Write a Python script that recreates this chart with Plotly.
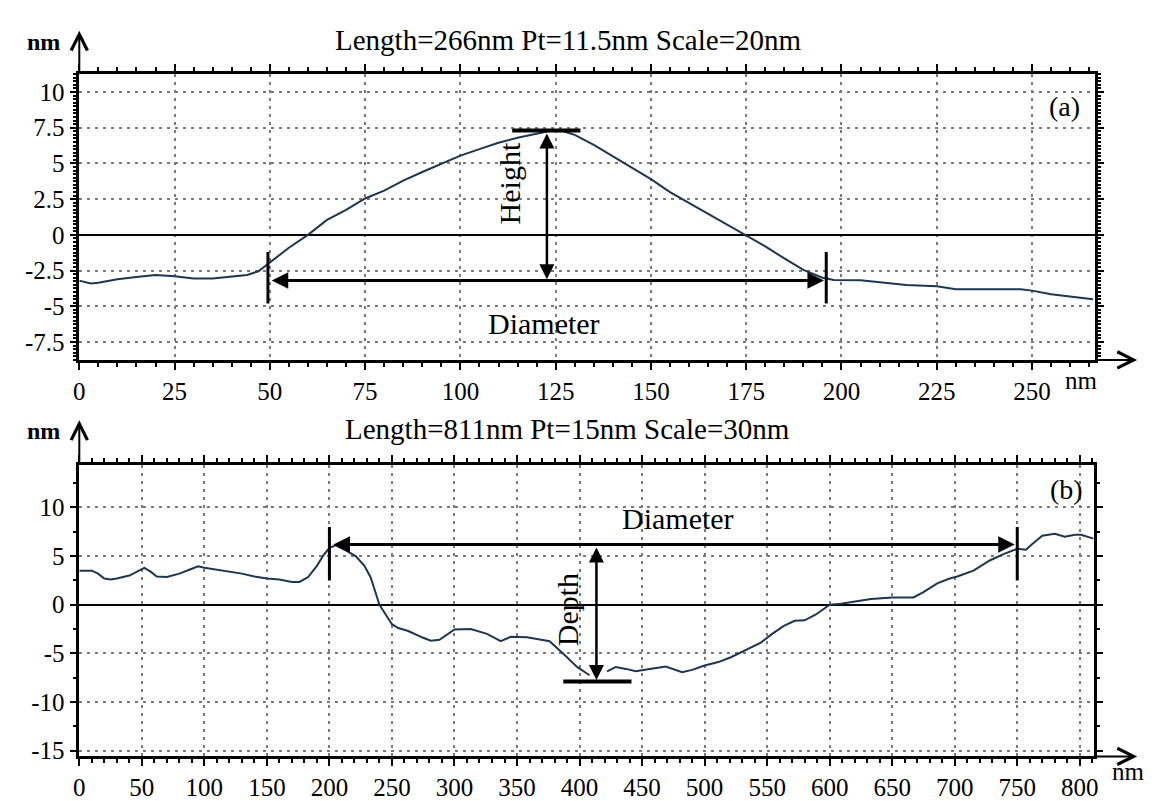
import plotly.graph_objects as go

# ---------------- data ----------------
# Panel (a) profile
xa = [0, 3, 5, 10, 15, 20, 25, 30, 35, 40, 44, 47, 50, 55, 60, 65, 70, 75, 80, 85,
      90, 95, 100, 105, 110, 115, 120, 124, 127, 130, 135, 140, 145, 150, 155, 160,
      165, 170, 175, 180, 185, 190, 195, 198, 205, 210, 217, 225, 230, 247, 250,
      255, 260, 266]
ya = [-3.2, -3.4, -3.35, -3.1, -2.95, -2.8, -2.9, -3.05, -3.05, -2.9, -2.8, -2.55,
      -1.95, -0.9, 0.0, 1.05, 1.75, 2.55, 3.1, 3.8, 4.4, 5.0, 5.55, 6.0, 6.45, 6.8,
      7.1, 7.3, 7.25, 7.0, 6.3, 5.5, 4.7, 3.9, 3.0, 2.25, 1.5, 0.75, 0.0, -0.8,
      -1.65, -2.45, -3.0, -3.15, -3.17, -3.3, -3.5, -3.6, -3.8, -3.8, -3.9, -4.15,
      -4.3, -4.5]

# Panel (b) profile
xb = [0, 10, 15, 20, 25, 30, 40, 47, 52, 57, 62, 70, 80, 90, 95, 100, 110, 120, 130,
      140, 150, 160, 170, 176, 183, 190, 195, 200, 205, 213, 221, 228, 233, 237, 240,
      245, 250, 255, 263, 275, 281, 288, 294, 300, 313, 326, 337, 345, 358, 366, 376,
      387, 398, 408, 413, 422, 429, 437, 445, 456, 469, 482, 490, 500, 511, 521, 535,
      545, 554, 563, 572, 580, 589, 600, 609, 624, 633, 650, 667, 675, 686, 696, 702,
      715, 728, 739, 750, 757, 762, 770, 780, 788, 796, 801, 811]
yb = [3.5, 3.5, 3.2, 2.7, 2.6, 2.7, 3.0, 3.5, 3.8, 3.4, 2.9, 2.85, 3.2, 3.7, 3.95, 3.8,
      3.6, 3.4, 3.2, 2.9, 2.7, 2.6, 2.35, 2.35, 2.85, 4.0, 5.05, 5.85, 6.1, 5.6, 5.0,
      4.0, 2.8, 1.2, 0.0, -1.0, -2.0, -2.4, -2.7, -3.4, -3.7, -3.6, -3.1, -2.55, -2.5,
      -3.0, -3.75, -3.3, -3.35, -3.5, -3.75, -5.05, -6.4, -7.25, None, -6.85, -6.4,
      -6.6, -6.85, -6.6, -6.35, -6.95, -6.7, -6.25, -5.9, -5.4, -4.5, -3.9, -3.0, -2.2,
      -1.65, -1.6, -1.0, 0.0, 0.1, 0.4, 0.6, 0.75, 0.75, 1.3, 2.2, 2.7, 2.9, 3.5, 4.55,
      5.2, 5.75, 5.65, 6.25, 7.1, 7.3, 7.0, 7.2, 7.2, 6.8]

# tick labels
xa_ticks = [0, 25, 50, 75, 100, 125, 150, 175, 200, 225, 250]
xa_labels = ["0", "25", "50", "75", "100", "125", "150", "175", "200", "225", "250"]
ya_ticks = [10, 7.5, 5, 2.5, 0, -2.5, -5, -7.5]
ya_labels = ["10", "7.5", "5", "2.5", "0", "-2.5", "-5", "-7.5"]
xb_ticks = list(range(0, 801, 50))
xb_labels = [str(v) for v in xb_ticks]
yb_ticks = [10, 5, 0, -5, -10, -15]
yb_labels = ["10", "5", "0", "-5", "-10", "-15"]

# measurement markers (data units)
a_diam = [49.5, 196.0]      # diameter endpoints, panel a
a_diam_y = -3.2
a_peak_x = 122.7
a_peak_y = 7.3
a_bar = [113.6, 131.5]
b_diam = [200.0, 750.0]
b_diam_y = 6.2
b_depth_x = 413.5
b_depth_y = -7.9
b_bar = [387.0, 441.5]

titles = ["Length=266nm Pt=11.5nm Scale=20nm", "Length=811nm Pt=15nm Scale=30nm"]

# ---------------- styling ----------------
FONT = "Liberation Serif"
LINE = "#1d3652"
W, H = 1156, 801


def px_x(p):
    return p / W


def px_y(p):
    return 1 - p / H


dom_x_a = [px_x(74), px_x(1099)]
dom_y_a = [px_y(364), px_y(75)]
dom_x_b = [px_x(74), px_x(1098)]
dom_y_b = [px_y(765), px_y(470)]

fig = go.Figure()
fig.add_trace(go.Scatter(x=xa, y=ya, mode="lines", line=dict(color=LINE, width=2),
                         xaxis="x", yaxis="y", showlegend=False, hoverinfo="skip"))
fig.add_trace(go.Scatter(x=xb, y=yb, mode="lines", line=dict(color=LINE, width=2),
                         xaxis="x2", yaxis="y2", showlegend=False, hoverinfo="skip",
                         connectgaps=False))


def axis_style(domain, rng, anchor, tickvals, ticktext, minor_dtick, zeroline):
    return dict(
        domain=domain, range=rng, anchor=anchor,
        tickmode="array", tickvals=tickvals, ticktext=ticktext,
        showgrid=True, gridcolor="#7a7a7a", griddash="3px,5px", gridwidth=1.6,
        showline=True, linecolor="black", linewidth=2.5, mirror="allticks",
        ticks="outside", ticklen=7, tickwidth=2, tickcolor="black",
        minor=dict(tickmode="linear", tick0=0, dtick=minor_dtick, ticks="outside",
                   ticklen=4, tickwidth=1.5, tickcolor="black", showgrid=False),
        tickfont=dict(family=FONT, size=25, color="black"),
        zeroline=zeroline, zerolinecolor="black", zerolinewidth=1.8,
        fixedrange=True,
    )


fig.update_layout(
    width=W, height=H,
    margin=dict(l=0, r=0, t=0, b=0),
    paper_bgcolor="white", plot_bgcolor="white",
    showlegend=False,
    font=dict(family=FONT, color="black"),
    xaxis=axis_style(dom_x_a, [0, 266.4], "y", xa_ticks, xa_labels, 5, False),
    yaxis=axis_style(dom_y_a, [-8.75, 11.25], "x", ya_ticks, ya_labels, 0.25, True),
    xaxis2=axis_style(dom_x_b, [0, 811], "y2", xb_ticks, xb_labels, 10, False),
    yaxis2=axis_style(dom_y_b, [-15.6, 14.4], "x2", yb_ticks, yb_labels, 2.5, True),
)

shapes = []
ann = []


def text_ann(xref, yref, x, y, text, size, angle=0):
    return dict(xref=xref, yref=yref, x=x, y=y, text=text, textangle=angle,
                xanchor="center", yanchor="middle", showarrow=False,
                font=dict(family=FONT, size=size, color="black"))


def dbl_arrow(xref, yref, x0, y0, x1, y1, width, size):
    return dict(xref=xref, yref=yref, axref=xref, ayref=yref,
                x=x1, y=y1, ax=x0, ay=y0, showarrow=True, arrowside="end+start",
                arrowhead=2, startarrowhead=2, arrowwidth=width, arrowsize=size,
                startarrowsize=size, arrowcolor="black", text="")


# ----- panel a markers -----
for xv in a_diam:
    shapes.append(dict(type="line", xref="x", yref="y", x0=xv, x1=xv, y0=-1.2, y1=-4.8,
                       line=dict(color="black", width=3)))
shapes.append(dict(type="line", xref="x", yref="y", x0=a_bar[0], x1=a_bar[1],
                   y0=a_peak_y, y1=a_peak_y, line=dict(color="black", width=4)))
ann.append(dbl_arrow("x", "y", a_diam[0] + 0.6, a_diam_y, a_diam[1] - 0.6, a_diam_y, 3, 1.1))
ann.append(dbl_arrow("x", "y", a_peak_x, a_peak_y - 0.1, a_peak_x, a_diam_y + 0.1, 2.5, 1.2))
ann.append(text_ann("x", "y", 113.0, 3.6, "Height", 30, -90))
ann.append(text_ann("x", "y", 122.0, -6.2, "Diameter", 30))
ann.append(text_ann("x", "y", 258.5, 9.0, "(a)", 28))

# ----- panel b markers -----
for xv in b_diam:
    shapes.append(dict(type="line", xref="x2", yref="y2", x0=xv, x1=xv, y0=8.0, y1=2.5,
                       line=dict(color="black", width=3)))
shapes.append(dict(type="line", xref="x2", yref="y2", x0=b_bar[0], x1=b_bar[1],
                   y0=b_depth_y, y1=b_depth_y, line=dict(color="black", width=4)))
ann.append(dbl_arrow("x2", "y2", b_diam[0] + 2, b_diam_y, b_diam[1] - 2, b_diam_y, 3, 1.1))
ann.append(dbl_arrow("x2", "y2", b_depth_x, b_diam_y - 0.15, b_depth_x, b_depth_y + 0.15, 2.5, 1.2))
ann.append(text_ann("x2", "y2", 390.5, -0.5, "Depth", 30, -90))
ann.append(text_ann("x2", "y2", 479, 8.9, "Diameter", 30))
ann.append(text_ann("x2", "y2", 789, 11.8, "(b)", 28))

# ----- titles, unit labels, axis arrows -----
for title, ty in zip(titles, [40, 434]):
    ann.append(text_ann("paper", "paper", px_x(567), px_y(ty), title, 29))
for ty in [42, 436]:
    ann.append(text_ann("paper", "paper", px_x(38), px_y(ty), "<b>nm</b>", 24))
for (nx, ny) in [(1086, 385), (1133, 780)]:
    ann.append(text_ann("paper", "paper", px_x(nx), px_y(ny), "nm", 25))

# y-axis arrows (up) and x-axis arrows (right)
for (top, tip) in [(75, 31), (470, 425)]:
    ann.append(dict(xref="paper", yref="paper", axref="pixel", ayref="pixel",
                    x=px_x(74), y=px_y(tip), ax=0, ay=top - tip,
                    showarrow=True, arrowhead=5, arrowsize=1.6, arrowwidth=2,
                    arrowcolor="black", text=""))
for (right, yy) in [(1099, 364), (1098, 765)]:
    ann.append(dict(xref="paper", yref="paper", axref="pixel", ayref="pixel",
                    x=px_x(1142), y=px_y(yy), ax=-(1142 - right), ay=0,
                    showarrow=True, arrowhead=5, arrowsize=1.6, arrowwidth=2,
                    arrowcolor="black", text=""))

fig.update_layout(shapes=shapes, annotations=ann)
fig.write_html("out.html")
